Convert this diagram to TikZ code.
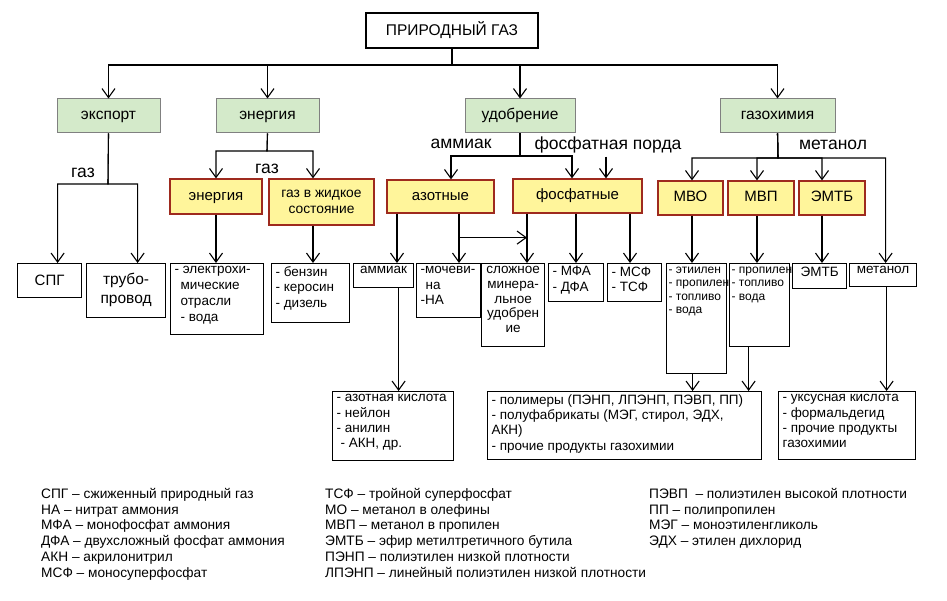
\documentclass[tikz,border=0pt]{standalone}
\usepackage{fontspec}
\setmainfont{Liberation Sans}
\usetikzlibrary{arrows.meta}
\hyphenpenalty=10000
\exhyphenpenalty=10000
\definecolor{sectorgreen}{RGB}{212,234,202}
\definecolor{sectorgray}{RGB}{128,128,128}
\definecolor{branchyellow}{RGB}{255,245,155}
\definecolor{branchred}{RGB}{158,42,30}

\begin{document}
\begin{tikzpicture}[x=1pt,y=-1pt,
    arr/.style={-{Straight Barb[length=9pt,width=13pt]},line width=1.1pt},
    topbox/.style={draw,line width=1.2pt,minimum width=172pt,minimum height=35pt,font=\fontsize{15.5}{18}\selectfont},
    sector/.style={draw=sectorgray,fill=sectorgreen,line width=1pt,minimum height=34pt,text height=9pt,text depth=1pt,font=\fontsize{15.5}{18}\selectfont},
    branch/.style={draw=branchred,fill=branchyellow,line width=1.2pt,align=center,font=\fontsize{15}{17}\selectfont},
    tag/.style={branch,text height=9pt,text depth=1pt},
    outbox/.style={draw,line width=1.2pt,anchor=north west,inner xsep=4pt,inner ysep=3pt,font=\fontsize{13.5}{15.3}\selectfont},
    smallout/.style={outbox,inner xsep=2pt,font=\fontsize{12}{13.6}\selectfont},
    flow/.style={font=\fontsize{17.5}{20}\selectfont},
    legend/.style={anchor=north west,inner sep=0pt,align=left,font=\fontsize{13.7}{15.8}\selectfont}]
    \useasboundingbox (0,0) rectangle (947,601);

    % top and sectors
    \node[topbox] (gas) at (452,30.5) {ПРИРОДНЫЙ ГАЗ};
    \node[sector,minimum width=103pt] (exp) at (108.5,116) {экспорт};
    \node[sector,minimum width=103pt] (enr) at (267.5,116) {энергия};
    \node[sector,minimum width=110pt] (udo) at (520,116) {удобрение};
    \node[sector,minimum width=115pt] (gch) at (777.5,116) {газохимия};

    \coordinate (bus) at (452,65);
    \draw[arr] (gas.south) -- (bus) -| (exp.north);
    \draw[arr] (gas.south) -- (bus) -| (enr.north);
    \draw[arr] (gas.south) -- (bus) -| (udo.north);
    \draw[arr] (gas.south) -- (bus) -| (gch.north);

    % export
    \coordinate (exbus) at (108,184);
    \node[flow] (gasA) at (83,173) {газ};
    \node[outbox] (spg) at (17,263) {\parbox[t][28pt][c]{56pt}{\centering\fontsize{15}{17}\selectfont СПГ}};
    \node[outbox] (pipe) at (86,263) {\parbox[t][48pt][c]{71pt}{\centering\fontsize{15.5}{19}\selectfont трубо-\\провод\\[2pt]}};
    \draw[arr] (exp.south) -- (exbus) -| ([xshift=8pt]spg.north);
    \draw[arr] (exp.south) -- (exbus) -| ([xshift=11.5pt]pipe.north);

    % energy
    \coordinate (enbus) at (267,151);
    \node[flow] (gasB) at (267,169) {газ};
    \node[tag,minimum width=92pt,minimum height=35pt] (en2) at (216,196.5) {энергия};
    \node[branch,minimum width=105pt,minimum height=46pt,font=\fontsize{13.8}{15.7}\selectfont] (liq) at (321.5,202) {газ в жидкое\\состояние};
    \draw[arr] (enr.south) -- (enbus) -| (en2.north);
    \draw[arr] (enr.south) -- (enbus) -| ([xshift=-8.5pt]liq.north);
    \node[outbox] (elec) at (170,263) {\parbox[t][65pt][t]{85pt}{\baselineskip=16pt - электрохи-\\\hspace*{6pt}мические\\\hspace*{6pt}отрасли\\\hspace*{6pt}- вода}};
    \node[outbox] (benz) at (271,263) {\parbox[t][53pt][t]{70pt}{- бензин\\- керосин\\- дизель}};
    \draw[arr] (en2.south) -- (en2.south |- elec.north);
    \draw[arr] ([xshift=-8.5pt]liq.south) -- ([xshift=-8.5pt]liq.south |- benz.north);

    % fertilizers
    \coordinate (fbus) at (520,156);
    \node[flow] (amm) at (461,144) {аммиак};
    \node[flow] (pord) at (608,145) {фосфатная порда};
    \node[tag,minimum width=107pt,minimum height=33pt] (azot) at (440.5,196.5) {азотные};
    \node[tag,minimum width=129pt,minimum height=34pt] (phos) at (577.5,196) {фосфатные};
    \draw[arr] (udo.south) -- (fbus) -| ([xshift=10.5pt]azot.north);
    \draw[arr] (udo.south) -- (fbus) -| ([xshift=-5.5pt]phos.north);
    \draw[arr] ([xshift=-2pt]pord.south) -- ([xshift=-2pt]pord.south |- phos.north);

    \node[outbox] (ammk) at (353,263) {\parbox[t][18pt][t]{52pt}{\centering аммиак}};
    \node[outbox] (urea) at (416,263) {\parbox[t][48pt][t]{56pt}{-мочеви-\\\hspace*{5pt}на\\-НА}};
    \node[outbox] (mix) at (481,263) {\parbox[t][77pt][t]{55pt}{\centering\baselineskip=14.7pt сложное\\минера-\\льное\\удобрен\\ие}};
    \node[outbox] (mfa) at (548,263) {\parbox[t][32pt][t]{47pt}{- МФА\\- ДФА}};
    \node[outbox] (msf) at (607,263) {\parbox[t][32pt][t]{46pt}{- МСФ\\- ТСФ}};
    \node[outbox] (nitr) at (332,391) {\parbox[t][63pt][t]{113pt}{- азотная кислота\\- нейлон\\- анилин\\\hspace*{4pt}- АКН, др.}};

    \draw[arr] ([xshift=-43.5pt]azot.south) -- ([xshift=-43.5pt]azot.south |- ammk.north);
    \draw[arr] ([xshift=18.5pt]azot.south) -- ([xshift=18.5pt]azot.south |- urea.north);
    \draw[arr] ([xshift=18.5pt,yshift=-24pt]azot.south) -- ([xshift=-50.5pt,yshift=-24pt]phos.south);
    \draw[arr] ([xshift=-50.5pt]phos.south) -- ([xshift=-50.5pt]phos.south |- mix.north);
    \draw[arr] ([xshift=-1.5pt]phos.south) -- ([xshift=-1.5pt]phos.south |- mfa.north);
    \draw[arr] ([xshift=52.5pt]phos.south) -- ([xshift=52.5pt]phos.south |- msf.north);
    \draw[arr] ([xshift=15pt]ammk.south) -- ([xshift=15pt]ammk.south |- nitr.north);

    % gas chemistry
    \coordinate (gbus) at (778,158);
    \node[flow] (meth) at (833,145) {метанол};
    \node[tag,minimum width=65pt,minimum height=34pt] (mvo) at (690.5,198) {МВО};
    \node[tag,minimum width=66pt,minimum height=34pt] (mvp) at (761,198) {МВП};
    \node[tag,minimum width=66pt,minimum height=34pt] (emtb) at (832,198) {ЭМТБ};
    \node[outbox] (metn) at (849,263) {\parbox[t][17pt][t]{59pt}{\centering метанол}};
    \draw[arr] (gch.south) -- (gbus) -| ([xshift=1.5pt]mvo.north);
    \draw[arr] (gch.south) -- (gbus) -| ([xshift=-4pt]mvp.north);
    \draw[arr] (gch.south) -- (gbus) -| ([xshift=-10pt]emtb.north);
    \draw[arr] (gch.south) -- (gbus) -| ([xshift=2.5pt]metn.north);

    \node[smallout] (olef) at (666,263) {\parbox[t][104pt][t]{56pt}{\mbox{- этиилен}\\\mbox{- пропилен}\\\mbox{- топливо}\\\mbox{- вода}}};
    \node[smallout] (prop) at (729,263) {\parbox[t][77pt][t]{56pt}{\mbox{- пропилен}\\\mbox{- топливо}\\\mbox{- вода}}};
    \node[outbox] (emtbo) at (792,263) {\parbox[t][19pt][t]{46pt}{\centering ЭМТБ}};
    \draw[arr] ([xshift=1.5pt]mvo.south) -- ([xshift=1.5pt]mvo.south |- olef.north);
    \draw[arr] ([xshift=-4pt]mvp.south) -- ([xshift=-4pt]mvp.south |- prop.north);
    \draw[arr] ([xshift=-10pt]emtb.south) -- ([xshift=-10pt]emtb.south |- emtbo.north);

    \node[outbox] (poly) at (487,391) {\parbox[t][62pt][t]{266pt}{\mbox{- полимеры (ПЭНП, ЛПЭНП, ПЭВП, ПП)}\\\mbox{- полуфабрикаты (МЭГ, стирол, ЭДХ,}\\АКН)\\- прочие продукты газохимии}};
    \node[outbox] (acid) at (778,391) {\parbox[t][62pt][t]{129pt}{- уксусная кислота\\- формальдегид\\- прочие продукты\\газохимии}};
    \draw[arr] ([xshift=-4pt]olef.south) -- ([xshift=-4pt]olef.south |- poly.north);
    \draw[arr] ([xshift=-11pt]prop.south) -- ([xshift=-11pt]prop.south |- poly.north);
    \draw[arr] ([xshift=3.5pt]metn.south) -- ([xshift=3.5pt]metn.south |- acid.north);

    % legend
    \node[legend] (legA) at (41,488) {СПГ – сжиженный природный газ\\НА – нитрат аммония\\МФА – монофосфат аммония\\ДФА – двухсложный фосфат аммония\\АКН – акрилонитрил\\МСФ – моносуперфосфат};
    \node[legend] (legB) at (325,488) {ТСФ – тройной суперфосфат\\МО – метанол в олефины\\МВП – метанол в пропилен\\ЭМТБ – эфир метилтретичного бутила\\ПЭНП – полиэтилен низкой плотности\\ЛПЭНП – линейный полиэтилен низкой плотности};
    \node[legend] (legC) at (649,488) {ПЭВП \ – полиэтилен высокой плотности\\ПП – полипропилен\\МЭГ – моноэтиленгликоль\\ЭДХ – этилен дихлорид};
\end{tikzpicture}
\end{document}
